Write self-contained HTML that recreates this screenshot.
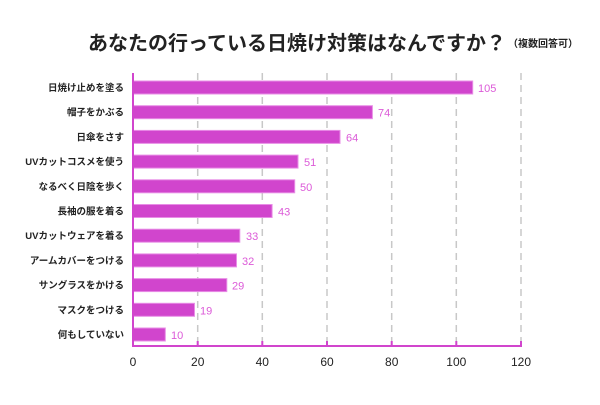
<!DOCTYPE html>
<html><head><meta charset="utf-8"><style>
body{margin:0;background:#fff;}
svg text{font-family:"Liberation Sans","Noto Sans CJK JP",sans-serif;}
</style></head><body>
<svg width="600" height="400" xmlns="http://www.w3.org/2000/svg">
<text x="88" y="50" font-size="20" font-weight="bold" fill="#222">あなたの行っている日焼け対策はなんですか？</text>
<text x="508" y="47" font-size="10" font-weight="bold" fill="#222">（複数回答可）</text>
<g stroke="#c8c8c8" stroke-width="1.5" stroke-dasharray="7,5">
<line x1="197.7" y1="73" x2="197.7" y2="345"/>
<line x1="262.3" y1="73" x2="262.3" y2="345"/>
<line x1="327" y1="73" x2="327" y2="345"/>
<line x1="391.7" y1="73" x2="391.7" y2="345"/>
<line x1="456.3" y1="73" x2="456.3" y2="345"/>
<line x1="521" y1="73" x2="521" y2="345"/>
</g>
<g fill="#d145cd" stroke="#e88ee6" stroke-width="1">
<rect x="133" y="81" width="339.7" height="13"/>
<rect x="133" y="105.7" width="239.4" height="13"/>
<rect x="133" y="130.4" width="207" height="13"/>
<rect x="133" y="155.1" width="165" height="13"/>
<rect x="133" y="179.8" width="161.7" height="13"/>
<rect x="133" y="204.5" width="139.1" height="13"/>
<rect x="133" y="229.2" width="106.8" height="13"/>
<rect x="133" y="253.9" width="103.5" height="13"/>
<rect x="133" y="278.6" width="93.8" height="13"/>
<rect x="133" y="303.3" width="61.5" height="13"/>
<rect x="133" y="328" width="32.3" height="13"/>
</g>
<g font-size="11" fill="#dc5ad8">
<text x="478" y="92">105</text>
<text x="378" y="116.7">74</text>
<text x="346" y="141.4">64</text>
<text x="304" y="166.1">51</text>
<text x="300" y="190.8">50</text>
<text x="278" y="215.5">43</text>
<text x="246" y="240.2">33</text>
<text x="242" y="264.9">32</text>
<text x="232" y="289.6">29</text>
<text x="200" y="314.3">19</text>
<text x="171" y="339">10</text>
</g>
<g font-size="9.5" fill="#222" font-weight="bold" text-anchor="end">
<text x="124" y="91">日焼け止めを塗る</text>
<text x="124" y="115.7">帽子をかぶる</text>
<text x="124" y="140.4">日傘をさす</text>
<text x="124" y="165.1">UVカットコスメを使う</text>
<text x="124" y="189.8">なるべく日陰を歩く</text>
<text x="124" y="214.5">長袖の服を着る</text>
<text x="124" y="239.2">UVカットウェアを着る</text>
<text x="124" y="263.9">アームカバーをつける</text>
<text x="124" y="288.6">サングラスをかける</text>
<text x="124" y="313.3">マスクをつける</text>
<text x="124" y="338">何もしていない</text>
</g>
<g stroke="#d145cd" stroke-width="2">
<line x1="133" y1="73" x2="133" y2="347"/>
<line x1="132" y1="346" x2="522" y2="346"/>
<line x1="197.7" y1="341" x2="197.7" y2="346"/>
<line x1="262.3" y1="341" x2="262.3" y2="346"/>
<line x1="327" y1="341" x2="327" y2="346"/>
<line x1="391.7" y1="341" x2="391.7" y2="346"/>
<line x1="456.3" y1="341" x2="456.3" y2="346"/>
<line x1="521" y1="341" x2="521" y2="346"/>
</g>
<g font-size="12" fill="#222" text-anchor="middle">
<text x="133" y="366">0</text>
<text x="197.7" y="366">20</text>
<text x="262.3" y="366">40</text>
<text x="327" y="366">60</text>
<text x="391.7" y="366">80</text>
<text x="456.3" y="366">100</text>
<text x="521" y="366">120</text>
</g>
</svg>
</body></html>
